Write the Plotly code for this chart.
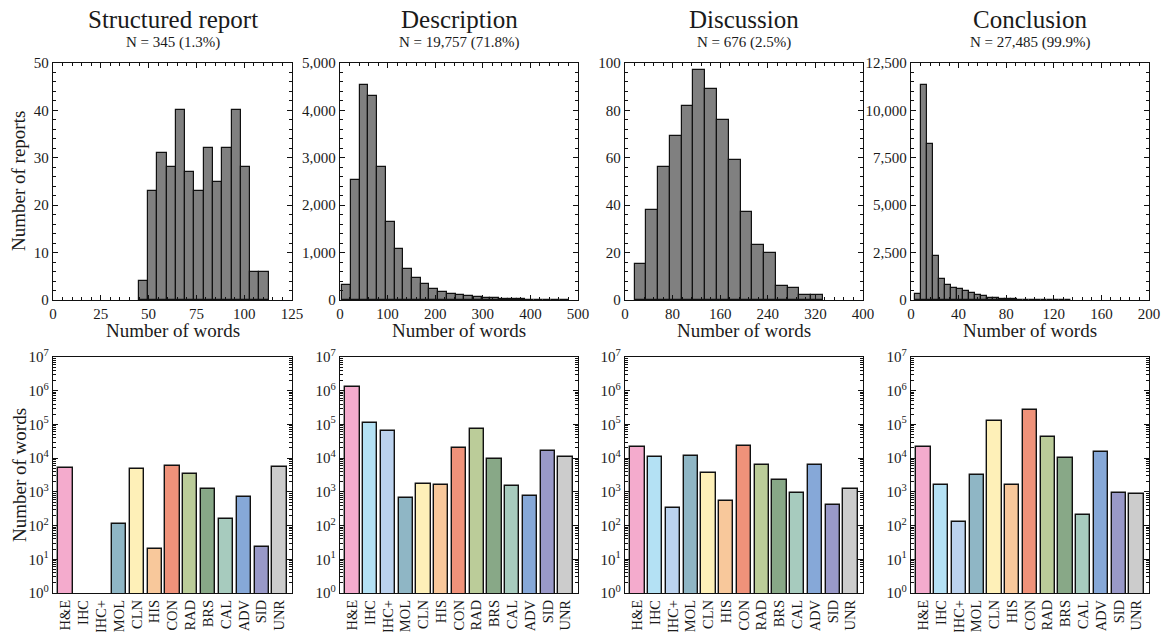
import plotly.graph_objects as go
from plotly.subplots import make_subplots

# ---------------- data ----------------
panel_titles = ["Structured report", "Description", "Discussion", "Conclusion"]
panel_subtitles = ["N = 345 (1.3%)", "N = 19,757 (71.8%)", "N = 676 (2.5%)", "N = 27,485 (99.9%)"]

# histogram bins (first edge, bin width) and counts
struct_bin_start, struct_bin_width = 44.8, 4.86
struct_counts = [4, 23, 31, 28, 40, 27, 23, 32, 25, 32, 40, 28, 6, 6]

desc_bin_start, desc_bin_width = 4.9, 18.3
desc_counts = [320, 2540, 4530, 4295, 2800, 1650, 1080, 650, 455, 340, 240, 178, 135, 114,
               93, 72, 51, 36, 21, 15, 11, 8, 6, 4, 3, 2]

disc_bin_start, disc_bin_width = 16.0, 19.8
disc_counts = [15, 38, 56, 69, 82, 97, 89, 76, 59, 37, 23, 20, 6, 5, 2, 2]

concl_bin_start, concl_bin_width = 3.3, 5.05
concl_counts = [320, 11350, 8250, 2300, 1130, 800, 650, 560, 480, 390, 290, 190, 130, 90,
                60, 40, 30, 22, 16, 12, 9, 7, 5, 4, 3, 2]

categories = ["H&E", "IHC", "IHC+", "MOL", "CLN", "HIS", "CON", "RAD", "BRS", "CAL", "ADV", "SID", "UNR"]
cat_colors = ["#F4ABCD", "#B4E1F4", "#BBD2EE", "#8FB6C5", "#FEF0B8", "#F8C89B", "#EF927A",
              "#BBCC99", "#88A887", "#A7CBBE", "#86A8D8", "#9999C8", "#CCCCCC"]

words_struct = [5000, None, None, 110, 4800, 20, 6000, 3400, 1250, 155, 720, 23, 5500]
words_desc = [1.3e6, 1.1e5, 6.2e4, 650, 1700, 1550, 2.0e4, 7.2e4, 9300, 1450, 760, 1.65e4, 1.05e4]
words_disc = [2.2e4, 1.1e4, 330, 1.15e4, 3600, 540, 2.35e4, 6100, 2200, 900, 6100, 420, 1200]
words_concl = [2.2e4, 1650, 130, 3200, 1.3e5, 1650, 2.7e5, 4.3e4, 9800, 200, 1.55e4, 940, 870]

hist_x_range = [[0, 125], [0, 500], [0, 400], [0, 200]]
hist_x_dtick = [25, 100, 80, 40]
hist_y_range = [[0, 50], [0, 5000], [0, 100], [0, 12500]]
hist_y_dtick = [10, 1000, 20, 2500]

log_tickvals = [10 ** k for k in range(8)]
log_ticktext = ["10<sup>%d</sup>" % k for k in range(8)]
log_minor = [m * 10 ** k for k in range(7) for m in range(2, 10)]

# ---------------- figure ----------------
FONT = "Liberation Serif"
W, H = 1161, 632
fig = make_subplots(rows=2, cols=4)


def px_x(p):
    return p / W


def px_y(p):
    return 1 - p / H


hists = [(struct_bin_start, struct_bin_width, struct_counts),
         (desc_bin_start, desc_bin_width, desc_counts),
         (disc_bin_start, disc_bin_width, disc_counts),
         (concl_bin_start, concl_bin_width, concl_counts)]
words = [words_struct, words_desc, words_disc, words_concl]

for i, (s, w, c) in enumerate(hists):
    xs = [s + w * (k + 0.5) for k in range(len(c))]
    fig.add_trace(go.Bar(x=xs, y=c, width=[w] * len(c),
                         marker=dict(color="#808080", line=dict(color="#111111", width=1.2)),
                         showlegend=False), row=1, col=i + 1)
    fig.add_trace(go.Bar(x=categories, y=words[i], width=0.8,
                         marker=dict(color=cat_colors, line=dict(color="#111111", width=1.4)),
                         showlegend=False), row=2, col=i + 1)

x_px = [(53, 292), (340, 578), (625, 863), (911, 1149)]
x_domains = [[px_x(a), px_x(b)] for a, b in x_px]
top_dom = [px_y(300), px_y(63)]
bot_dom = [px_y(593), px_y(357)]

tickfont = dict(family=FONT, size=15, color="#1a1a1a")
axis_common = dict(showline=True, linecolor="#111111", linewidth=1.3, mirror="allticks",
                   ticks="inside", ticklen=5, tickwidth=1.1, tickcolor="#111111",
                   showgrid=False, zeroline=False, tickfont=tickfont, automargin=False)

for i in range(4):
    # top row
    fig.update_xaxes(domain=x_domains[i], range=hist_x_range[i], dtick=hist_x_dtick[i], tick0=0,
                     minor=dict(ticks="inside", ticklen=3, tickcolor="#111111",
                                dtick=hist_x_dtick[i] / 5, tick0=0),
                     row=1, col=i + 1, **axis_common)
    fig.update_yaxes(domain=top_dom, range=hist_y_range[i], dtick=hist_y_dtick[i], tick0=0,
                     tickformat=",d",
                     minor=dict(ticks="inside", ticklen=3, tickcolor="#111111",
                                dtick=hist_y_dtick[i] / 5, tick0=0),
                     row=1, col=i + 1, **axis_common)
    # bottom row
    ax_b = dict(axis_common)
    ax_b["ticks"] = ""
    ax_b["tickfont"] = dict(family=FONT, size=14.5, color="#1a1a1a")
    fig.update_xaxes(domain=x_domains[i], range=[-0.7, 12.7], tickangle=-90,
                     type="category", tickmode="array", tickvals=categories, ticktext=categories,
                     row=2, col=i + 1, **ax_b)
    fig.update_yaxes(domain=bot_dom, type="log", range=[0, 7], tickvals=log_tickvals,
                     ticktext=log_ticktext,
                     minor=dict(ticks="inside", ticklen=3, tickcolor="#111111", tickvals=log_minor),
                     row=2, col=i + 1, **axis_common)

annotations = []
for i in range(4):
    cx = (x_domains[i][0] + x_domains[i][1]) / 2
    annotations.append(dict(text=panel_titles[i], x=cx, y=px_y(20), xref="paper", yref="paper",
                            showarrow=False, font=dict(family=FONT, size=25, color="#1a1a1a"),
                            xanchor="center", yanchor="middle"))
    annotations.append(dict(text=panel_subtitles[i], x=cx, y=px_y(42), xref="paper", yref="paper",
                            showarrow=False, font=dict(family=FONT, size=15, color="#1a1a1a"),
                            xanchor="center", yanchor="middle"))
    annotations.append(dict(text="Number of words", x=cx, y=px_y(330), xref="paper", yref="paper",
                            showarrow=False, font=dict(family=FONT, size=19, color="#1a1a1a"),
                            xanchor="center", yanchor="middle"))
annotations.append(dict(text="Number of reports", x=px_x(19), y=px_y(181), xref="paper", yref="paper",
                        showarrow=False, textangle=-90,
                        font=dict(family=FONT, size=19, color="#1a1a1a"),
                        xanchor="center", yanchor="middle"))
annotations.append(dict(text="Number of words", x=px_x(19), y=px_y(475), xref="paper", yref="paper",
                        showarrow=False, textangle=-90,
                        font=dict(family=FONT, size=19, color="#1a1a1a"),
                        xanchor="center", yanchor="middle"))

fig.update_layout(width=W, height=H, margin=dict(l=0, r=0, t=0, b=0),
                  paper_bgcolor="white", plot_bgcolor="white",
                  bargap=0, annotations=annotations,
                  font=dict(family=FONT, color="#1a1a1a"))

fig.write_html("out.html", config={"displayModeBar": False},
               post_script="document.body.style.margin='0';document.body.style.overflow='hidden';")
